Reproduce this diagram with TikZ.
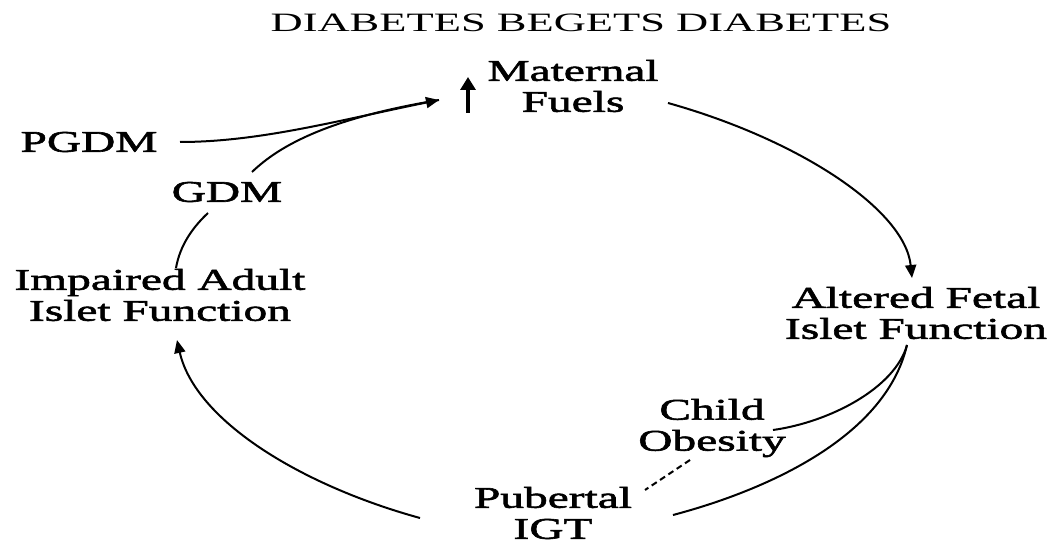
\documentclass[tikz,border=0pt]{standalone}
\usepackage{fontspec}
\setmainfont{Liberation Serif}[FakeStretch=1.68]
\newfontfamily\labfont{Liberation Serif}[FakeStretch=1.58,FakeBold=2]
\usetikzlibrary{arrows.meta}
\tikzset{
  lab/.style={font=\labfont\fontsize{30}{31}\selectfont, align=center, inner sep=0pt},
  ttl/.style={font=\fontsize{26.5}{30}\selectfont, inner sep=0pt},
  conn/.style={line width=2pt},
  arr/.style={conn, -{Triangle[length=13pt,width=11pt]}},
}
\begin{document}
\begin{tikzpicture}[x=1pt,y=-1pt]
\useasboundingbox[fill=white] (0,0) rectangle (1058,548);
\node[ttl] (title) at (581,23) {DIABETES BEGETS DIABETES};
\node[lab] (mf) at (573,86) {Maternal\\Fuels};
\node[lab] (pgdm) at (89,142) {PGDM};
\node[lab] (gdm) at (227,192) {GDM};
\node[lab] (ia) at (160,295) {Impaired Adult\\Islet Function};
\node[lab] (af) at (916,313) {Altered Fetal\\Islet Function};
\node[lab] (co) at (712,428) {Child\\Obesity};
\node[lab] (pi) at (553,513) {Pubertal\\IGT};
% up arrow beside Maternal Fuels
\draw[line width=4.5pt, -{Triangle[length=13pt,width=15pt]}] (468,113) -- (468,77);
\coordinate (tip1) at (439,100);
\draw[arr] (180,142) .. controls (260,142) and (340,120) .. (tip1);
\draw[conn] (252,172) .. controls (280,145) and (330,118) .. (tip1);
\draw[arr] (668,103) .. controls (800,140) and (905,210) .. (912,278);
\draw[conn] (907,345) .. controls (895,388) and (830,422) .. (773,430);
\draw[conn] (907,345) .. controls (885,440) and (760,492) .. (673,515);
\draw[conn, dash pattern=on 6pt off 4pt] (690,460) -- (645,490);
\draw[arr] (420,518) .. controls (300,485) and (195,420) .. (177,340);
\draw[conn] (176,268) .. controls (180,245) and (193,227) .. (208,213);
\end{tikzpicture}
\end{document}
